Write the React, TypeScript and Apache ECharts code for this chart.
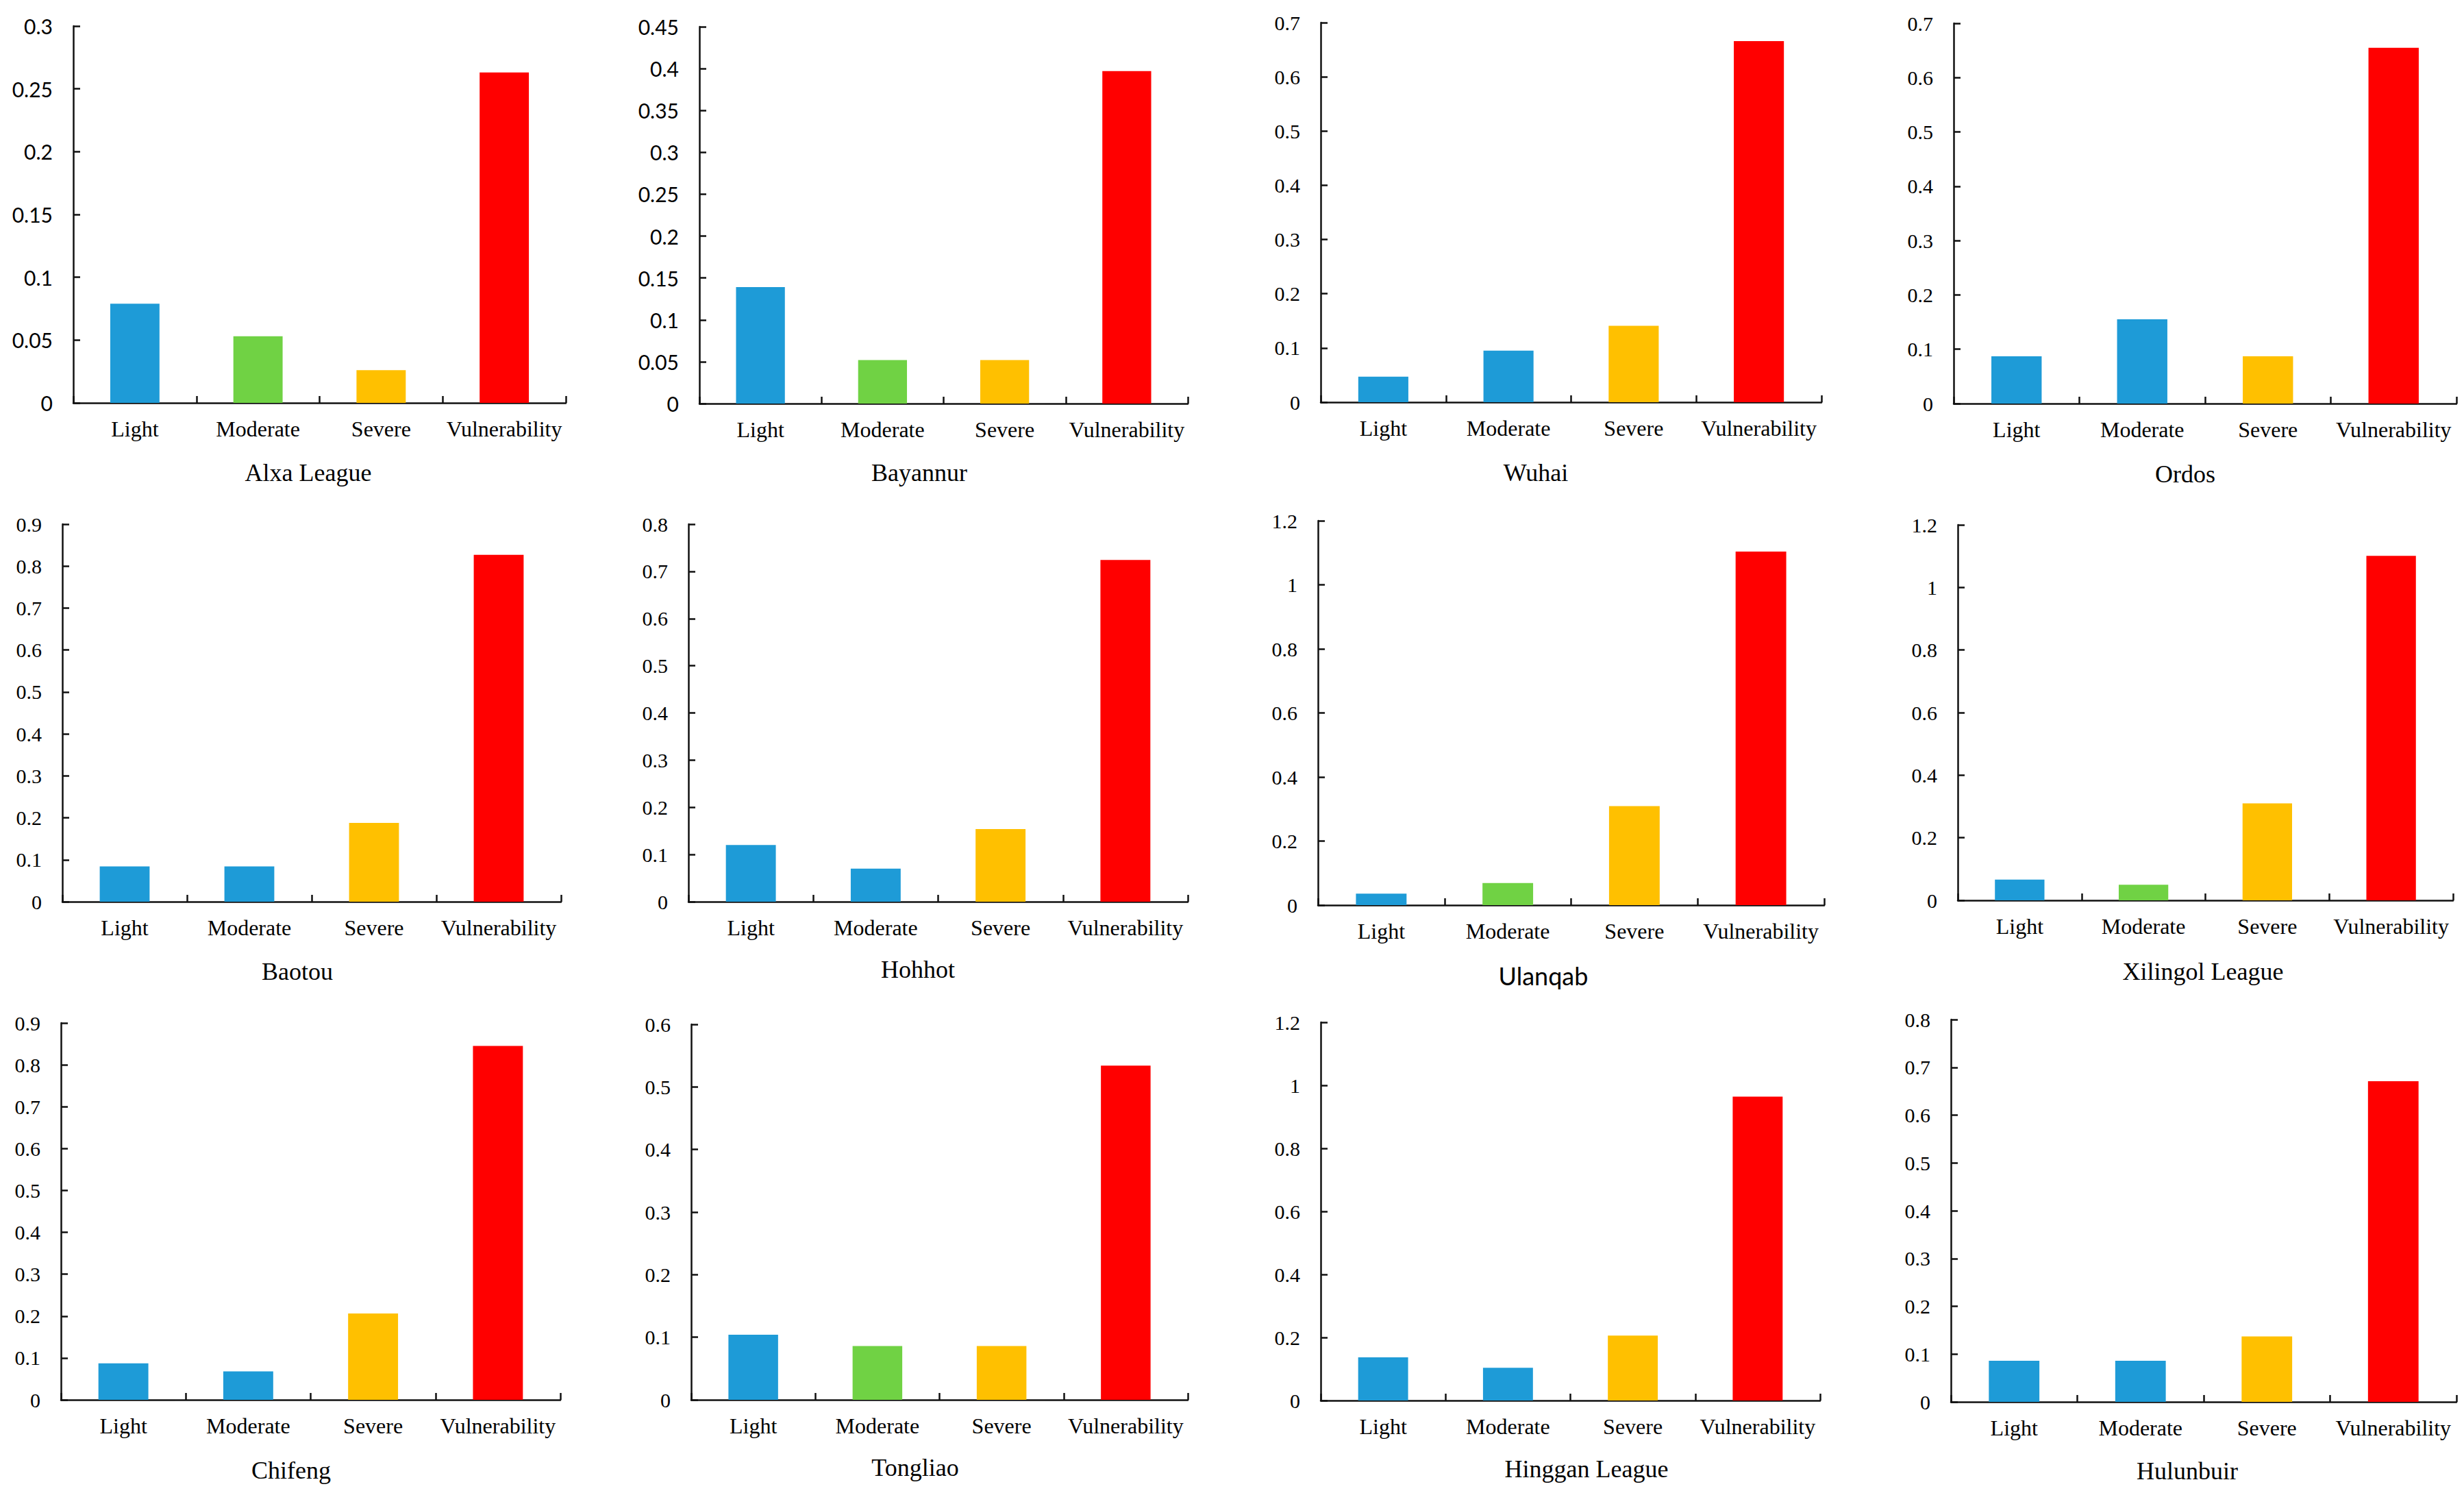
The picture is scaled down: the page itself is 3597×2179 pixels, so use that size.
import React, { useEffect, useRef } from "react";
import * as echarts from "echarts";

const categories = ["Light", "Moderate", "Severe", "Vulnerability"];

const regionNames = [
  "Alxa League", "Bayannur", "Wuhai", "Ordos",
  "Baotou", "Hohhot", "Ulanqab", "Xilingol League",
  "Chifeng", "Tongliao", "Hinggan League", "Hulunbuir",
];

const alxa = [0.079, 0.053, 0.026, 0.263];
const bayannur = [0.139, 0.052, 0.052, 0.397];
const wuhai = [0.047, 0.095, 0.141, 0.666];
const ordos = [0.087, 0.155, 0.087, 0.655];
const baotou = [0.084, 0.084, 0.188, 0.827];
const hohhot = [0.12, 0.07, 0.154, 0.724];
const ulanqab = [0.036, 0.069, 0.309, 1.104];
const xilingol = [0.066, 0.05, 0.31, 1.101];
const chifeng = [0.087, 0.068, 0.206, 0.845];
const tongliao = [0.104, 0.086, 0.086, 0.534];
const hinggan = [0.137, 0.104, 0.206, 0.964];
const hulunbuir = [0.086, 0.086, 0.137, 0.671];

const regionValues = [alxa, bayannur, wuhai, ordos, baotou, hohhot, ulanqab, xilingol, chifeng, tongliao, hinggan, hulunbuir];

const yMax = [0.3, 0.45, 0.7, 0.7, 0.9, 0.8, 1.2, 1.2, 0.9, 0.6, 1.2, 0.8];
const yInterval = [0.05, 0.05, 0.1, 0.1, 0.1, 0.1, 0.2, 0.2, 0.1, 0.1, 0.2, 0.1];

// B = blue, G = green, Y = yellow, R = red
const barColorKeys = [
  "BGYR", "BGYR", "BBYR", "BBYR",
  "BBYR", "BBYR", "BGYR", "BGYR",
  "BBYR", "BGYR", "BBYR", "BBYR",
];

const palette: Record<string, string> = {
  B: "#1E9BD7",
  G: "#70D244",
  Y: "#FFC000",
  R: "#FF0000",
};

// layout (pixels): grid left, top, width, height; title center x, y
const grids = [
  [107, 38, 719, 550], [1021, 39, 713, 550], [1928, 33, 731, 554], [2852, 34, 734, 555],
  [91, 765, 728, 551], [1005, 765, 729, 551], [1924, 760, 739, 561], [2858, 766, 723, 548],
  [89, 1493, 729, 550], [1009, 1495, 725, 548], [1928, 1492, 729, 552], [2848, 1488, 738, 558],
];
const titlePos = [
  [450, 690], [1342, 690], [2242, 690], [3190, 692],
  [434, 1418], [1340, 1415], [2253, 1424], [3216, 1418],
  [425, 2146], [1336, 2142], [2316, 2144], [3193, 2147],
];

const SERIF = "'Liberation Serif', 'Times New Roman', serif";
const SANS = "Lato, 'Noto Sans', sans-serif";
const sansTickPanels = [0, 1];
const sansTitlePanels = [6];

export default function App() {
  const ref = useRef<HTMLDivElement>(null);
  useEffect(() => {
    if (!ref.current) return;
    const chart = echarts.init(ref.current, undefined, { renderer: "svg" });
    const axisLine = { show: true, lineStyle: { color: "#111", width: 2.5 } };
    const axisTick = { show: true, inside: true, length: 10, lineStyle: { color: "#111", width: 2.5 } };

    const option: any = {
      animation: false,
      backgroundColor: "#ffffff",
      grid: grids.map((g) => ({ left: g[0], top: g[1], width: g[2], height: g[3], containLabel: false })),
      xAxis: grids.map((_, i) => ({
        type: "category",
        gridIndex: i,
        data: categories,
        boundaryGap: true,
        axisLine,
        axisTick: { ...axisTick, interval: 0 },
        axisLabel: { interval: 0, fontSize: 32, fontFamily: SERIF, color: "#000", margin: 22 },
        splitLine: { show: false },
      })),
      yAxis: grids.map((_, i) => ({
        type: "value",
        gridIndex: i,
        min: 0,
        max: yMax[i],
        interval: yInterval[i],
        axisLine,
        axisTick,
        axisLabel: {
          fontSize: 30,
          fontFamily: sansTickPanels.includes(i) ? SANS : SERIF,
          color: "#000",
          margin: 30,
          formatter: (v: number) => String(Math.round(v * 1000) / 1000),
        },
        splitLine: { show: false },
      })),
      series: regionValues.map((vals, i) => ({
        type: "bar",
        xAxisIndex: i,
        yAxisIndex: i,
        barWidth: "40%",
        data: vals.map((v, j) => ({ value: v, itemStyle: { color: palette[barColorKeys[i][j]] } })),
      })),
      graphic: titlePos.map((p, i) => ({
        type: "text",
        x: p[0],
        y: p[1],
        style: {
          text: regionNames[i],
          fontSize: 36,
          fontFamily: sansTitlePanels.includes(i) ? SANS : SERIF,
          fill: "#000",
          align: "center",
          verticalAlign: "middle",
        },
      })),
    };
    chart.setOption(option);
    return () => chart.dispose();
  }, []);
  return (
    <div
      ref={ref}
      style={{ position: "fixed", left: 0, top: 0, width: "3597px", height: "2179px", background: "#fff" }}
    />
  );
}
